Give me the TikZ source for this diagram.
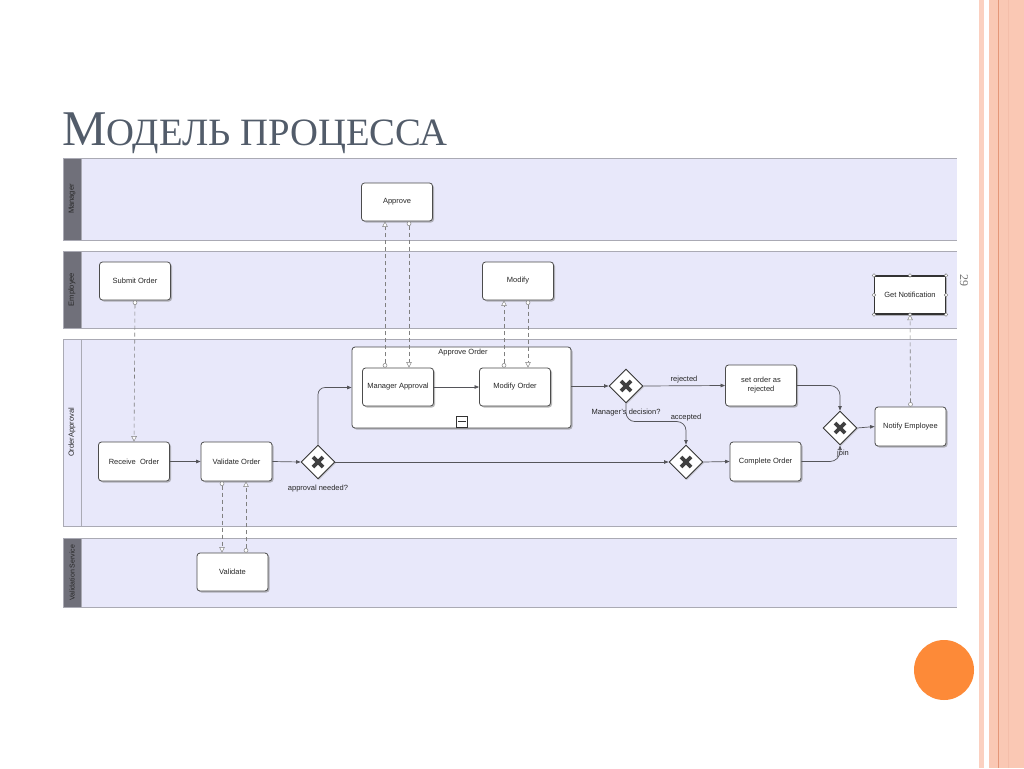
\documentclass[tikz,border=0pt]{standalone}
\usepackage{fontspec}
\setmainfont{Liberation Sans}
\newfontfamily\titlefont{Liberation Serif}
\usetikzlibrary{arrows.meta,shapes.geometric,shadows,calc}
\definecolor{lanefill}{RGB}{232,232,250}
\definecolor{laneline}{RGB}{170,170,180}
\definecolor{hdrgray}{RGB}{112,112,122}
\definecolor{titlecol}{RGB}{82,92,106}
\definecolor{stripeA}{RGB}{251,208,192}
\definecolor{stripeB}{RGB}{250,200,180}
\definecolor{stripeL}{RGB}{228,150,120}
\definecolor{orangedot}{RGB}{253,138,56}
\definecolor{flowcol}{RGB}{85,85,90}
\tikzset{
  lanebg/.style={fill=lanefill},
  laneedge/.style={draw=laneline, line width=0.8pt},
  hdr/.style={fill=hdrgray},
  lanelabel/.style={rotate=90, font=\fontsize{7.5}{9}\selectfont, text=black!85, inner sep=0pt},
  task/.style={rectangle, rounded corners=3pt, draw=black!70, line width=0.8pt, fill=white,
    minimum width=71pt, minimum height=38pt, align=center, inner sep=1pt,
    font=\fontsize{7.5}{9}\selectfont, text=black!85,
    drop shadow={shadow xshift=1.5pt, shadow yshift=-1.5pt, fill=black!45, opacity=0.6}},
  gateway/.style={diamond, draw=black!80, line width=0.9pt, fill=white, minimum width=34pt,
    minimum height=34pt, inner sep=0pt,
    drop shadow={shadow xshift=1pt, shadow yshift=-1pt, fill=black!40, opacity=0.5}},
  xmark/.style={line width=3.6pt, draw=black!75},
  seq/.style={draw=flowcol, line width=0.7pt, -{Triangle[length=4.5pt,width=3.5pt]}},
  msg/.style={draw=black!50, line width=0.6pt, dash pattern=on 4pt off 3pt,
    {Circle[open,length=4.5pt,fill=white,line width=0.5pt]}-{Triangle[open,length=5.5pt,width=5.5pt,fill=white,line width=0.5pt]}},
  flowlabel/.style={font=\fontsize{7.5}{9}\selectfont, text=black!85, inner sep=1pt},
  handle/.style={circle, draw=black!55, fill=white, inner sep=0pt, minimum size=3.6pt, line width=0.4pt}
}
\begin{document}
\begin{tikzpicture}[x=1pt,y=-1pt]
\useasboundingbox (0,0) rectangle (1024,768);
\fill[white] (0,0) rectangle (1024,768);
% right decoration
\fill[stripeA] (979,0) rectangle (984,768);
\fill[stripeB] (989,0) rectangle (1024,768);
\draw[stripeL, line width=1pt] (998,0) -- (998,768);
\draw[stripeA!70!stripeL, line width=0.5pt] (1008,0) -- (1008,768);
\fill[orangedot] (944,670) circle (30);
\node[rotate=-90, font=\titlefont\fontsize{12}{12}\selectfont, text=black!55] (pagenum) at (964,280) {29};
% title
\node[anchor=base west, inner sep=0pt, text=titlecol, font=\titlefont] (title) at (62,145)
  {\fontsize{50}{50}\selectfont М\fontsize{38.7}{38.7}\selectfont ОДЕЛЬ ПРОЦЕССА};
% lanes
\fill[lanebg] (63,158) rectangle (957,240);
\fill[lanebg] (63,251) rectangle (957,328);
\fill[lanebg] (63,339) rectangle (957,526);
\fill[lanebg] (63,538) rectangle (957,607);
\fill[hdr] (63,158) rectangle (81,240);
\fill[hdr] (63,251) rectangle (81,328);
\fill[hdr] (63,538) rectangle (81,607);
\foreach \a/\b in {158/240,251/328,339/526,538/607}{
  \draw[laneedge] (63,\a) -- (957,\a);
  \draw[laneedge] (63,\b) -- (957,\b);
  \draw[laneedge] (63,\a) -- (63,\b);
  \draw[laneedge] (81,\a) -- (81,\b);
}
\node[lanelabel] (lmgr) at (72,199) {Manager};
\node[lanelabel] (lemp) at (72,289.5) {Employee};
\node[lanelabel] (lord) at (72,432.5) {OrderApproval};
\node[lanelabel, font=\fontsize{7}{8}\selectfont] (lval) at (72,572.5) {Validation Service};
% subprocess
\node[rectangle, rounded corners=3pt, draw=black!70, line width=0.8pt, fill=white,
  minimum width=219pt, minimum height=81pt,
  drop shadow={shadow xshift=1.5pt, shadow yshift=-1.5pt, fill=black!45, opacity=0.6}] (ao) at (461.5,387.5) {};
\node[flowlabel] (aolabel) at (463,353) {Approve Order};
\node[draw=black!80, fill=white, minimum size=11pt, inner sep=0pt, line width=0.6pt] (collapse) at (462,421.5) {};
\draw[black!80, line width=1.2pt] ($(collapse.west)+(2,0)$) -- ($(collapse.east)+(-2,0)$);
% tasks
\node[task] (approve) at (397,202) {Approve};
\node[task] (submit) at (135,281) {Submit Order};
\node[task] (modify) at (518,281) {Modify};
\node[task, rounded corners=0pt, line width=1.1pt, draw=black!80] (getn) at (910,295) {Get Notification};
\node[task] (mapp) at (398,387) {Manager Approval};
\node[task] (morder) at (515,387) {Modify Order};
\node[task, minimum height=41pt] (rej) at (761,385.5) {set order as\\rejected};
\node[task, minimum height=39pt] (notify) at (910.5,426.5) {Notify Employee};
\node[task, minimum height=39pt] (receive) at (134,461.5) {Receive\ \ Order};
\node[task, minimum height=39pt] (vorder) at (236.5,461.5) {Validate Order};
\node[task, minimum height=39pt] (comp) at (765.5,461.5) {Complete Order};
\node[task] (valid) at (232.5,572) {Validate};
% handles on Get Notification
\foreach \p in {north west,north,north east,east,south east,south,south west,west}
  \node[handle] at (getn.\p) {};
% gateways
\node[gateway] (gap) at (318,462) {};
\node[gateway] (gdec) at (626,386) {};
\node[gateway] (gacc) at (686,462) {};
\node[gateway] (gjoin) at (840,428) {};
\foreach \g in {gap,gdec,gacc,gjoin}{
  \draw[xmark] ($(\g)+(-5,-5)$) -- ($(\g)+(5,5)$);
  \draw[xmark] ($(\g)+(-5,5)$) -- ($(\g)+(5,-5)$);
}
% labels
\node[flowlabel] (lapp) at (318,489) {approval needed?};
\node[flowlabel] (ldec) at (626,413) {Manager's decision?};
\node[flowlabel] (lrej) at (684,379.5) {rejected};
\node[flowlabel] (lacc) at (686,418) {accepted};
\node[flowlabel] (ljoin) at (843,453.5) {join};
% sequence flows
\draw[seq] (receive.east) -- (vorder.west);
\draw[seq] (vorder.east) -- (gap.west);
\draw[seq, rounded corners=7pt] (gap.north) |- (ao.west);
\draw[seq] (gap.east) -- (gacc.west);
\draw[seq] (mapp.east) -- (morder.west);
\draw[seq] (ao.east |- gdec.west) -- (gdec.west);
\draw[seq] (gdec.east) -- (rej.west);
\draw[seq, rounded corners=9pt] (gdec.south) |- ($(gacc.north)+(0,-23)$) -- (gacc.north);
\draw[seq] (gacc.east) -- (comp.west);
\draw[seq, rounded corners=10pt] (rej.east) -| (gjoin.north);
\draw[seq, rounded corners=10pt] (comp.east) -| (gjoin.south);
\draw[seq] (gjoin.east) -- (notify.west);
% message flows
\draw[msg] (submit.south) -- (receive.north);
\draw[msg] ([xshift=-13pt]mapp.north) -- ([xshift=-12pt]approve.south);
\draw[msg] ([xshift=12pt]approve.south) -- ([xshift=11pt]mapp.north);
\draw[msg] ([xshift=-11pt]morder.north) -- ([xshift=-14pt]modify.south);
\draw[msg] ([xshift=10pt]modify.south) -- ([xshift=13pt]morder.north);
\draw[msg] (notify.north) -- (getn.south);
\draw[msg] ([xshift=-14.5pt]vorder.south) -- ([xshift=-10.5pt]valid.north);
\draw[msg] ([xshift=13.5pt]valid.north) -- ([xshift=9.5pt]vorder.south);
\end{tikzpicture}
\end{document}
